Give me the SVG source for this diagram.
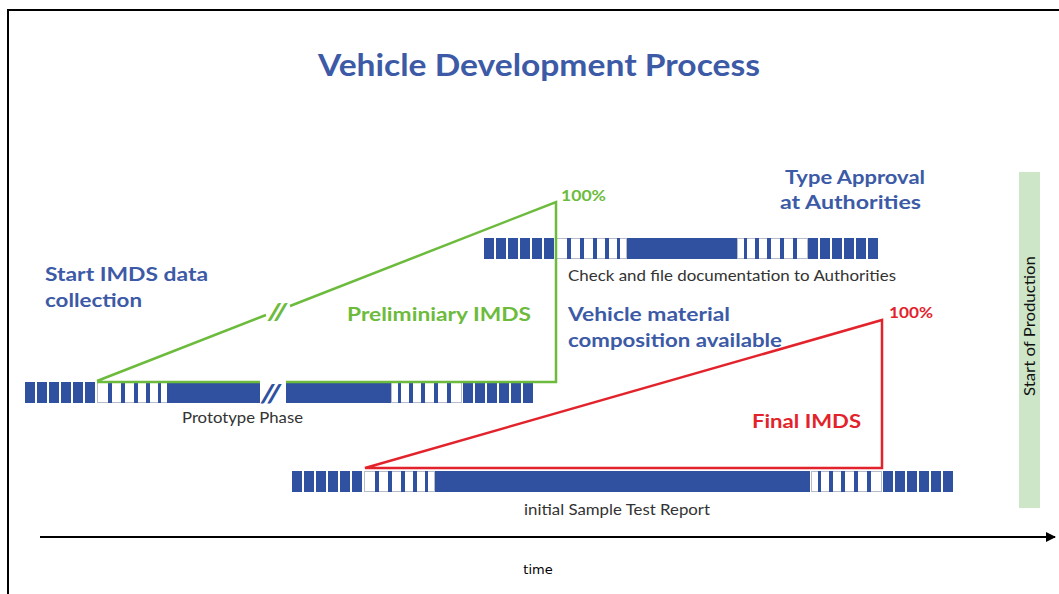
<svg xmlns="http://www.w3.org/2000/svg" xmlns:xlink="http://www.w3.org/1999/xlink" width="1059" height="594" viewBox="0 0 1059 594">
<style>
.bk{fill:#2f519f}
.sw{fill:#fff;stroke:#b8bcc8;stroke-width:1}
.st{fill:#2f519f}
.hd{font-family:Lato,"Open Sans",sans-serif;font-weight:bold;fill:#3c5aa6}
.lb{font-family:Lato,"Open Sans",sans-serif;fill:#333;font-size:16px}
.gr{stroke:#6cbb3c;stroke-width:2.5;fill:none}
.rd{stroke:#e3232c;stroke-width:2.5;fill:none}
</style>
<defs>
<g id="blk">
<rect class="bk" x="0" y="0" width="10" height="21"/>
<rect class="bk" x="12" y="0" width="10" height="21"/>
<rect class="bk" x="24" y="0" width="10" height="21"/>
<rect class="bk" x="36" y="0" width="10" height="21"/>
<rect class="bk" x="48" y="0" width="10" height="21"/>
<rect class="bk" x="60" y="0" width="10" height="21"/>
</g>
<g id="str">
<rect class="sw" x="0.5" y="0.5" width="70" height="20"/>
<rect class="st" x="11" y="0" width="4" height="21"/>
<rect class="st" x="24" y="0" width="4" height="21"/>
<rect class="st" x="37" y="0" width="4" height="21"/>
<rect class="st" x="49" y="0" width="4" height="21"/>
<rect class="st" x="61" y="0" width="3" height="21"/>
</g>
<marker id="arr" markerWidth="10" markerHeight="10" refX="9" refY="5" orient="auto" markerUnits="userSpaceOnUse">
<path d="M0,0 L10,5 L0,10 Z" fill="#000"/>
</marker>
</defs>
<rect x="0" y="0" width="1059" height="594" fill="#fff"/>
<path d="M8,594 V10 H1059" fill="none" stroke="#000" stroke-width="2"/>

<text class="hd" x="318" y="76" font-size="30" textLength="442" lengthAdjust="spacingAndGlyphs">Vehicle Development Process</text>

<g id="prototype-bar">
<use xlink:href="#blk" x="25" y="382"/>
<use xlink:href="#str" x="97" y="382"/>
<rect class="bk" x="167" y="382" width="93" height="21"/>
<text x="261" y="402" font-family="Lato,sans-serif" font-weight="900" font-style="italic" font-size="25" fill="#2f519f" textLength="20" lengthAdjust="spacingAndGlyphs">//</text>
<rect class="bk" x="286" y="382" width="106" height="21"/>
<use xlink:href="#str" transform="translate(462,382) scale(-1,1)"/>
<use xlink:href="#blk" x="463" y="382"/>
<text class="lb" x="182" y="423" textLength="121" lengthAdjust="spacingAndGlyphs">Prototype Phase</text>
</g>

<g id="authorities-bar">
<use xlink:href="#blk" x="484" y="238"/>
<use xlink:href="#str" x="556" y="238"/>
<rect class="bk" x="627" y="238" width="111" height="21"/>
<use xlink:href="#str" transform="translate(808,238) scale(-1,1)"/>
<use xlink:href="#blk" x="808" y="238"/>
<text class="lb" x="568" y="281" textLength="328" lengthAdjust="spacingAndGlyphs">Check and file documentation to Authorities</text>
</g>

<g id="sample-bar">
<use xlink:href="#blk" x="292" y="471"/>
<use xlink:href="#str" x="364" y="471"/>
<rect class="bk" x="435" y="471" width="375" height="21"/>
<use xlink:href="#str" transform="translate(882,471) scale(-1,1)"/>
<use xlink:href="#blk" x="883" y="471"/>
<text class="lb" x="524" y="515" textLength="186" lengthAdjust="spacingAndGlyphs">initial Sample Test Report</text>
</g>

<g id="connectors">
<path class="gr" d="M97,381 L266,315 M290,306 L556,202 V382 H286 M260,382 H97"/>
<text x="268" y="320" font-family="Lato,sans-serif" font-weight="900" font-style="italic" font-size="23" fill="#6cbb3c" textLength="19" lengthAdjust="spacingAndGlyphs">//</text>
<path class="rd" d="M365,468 L882,320 V468 Z"/>
<line x1="40" y1="537" x2="1055" y2="537" stroke="#000" stroke-width="2" marker-end="url(#arr)"/>
</g>

<g id="start-imds">
<text class="hd" x="45" y="281" font-size="19" textLength="163" lengthAdjust="spacingAndGlyphs">Start IMDS data</text>
<text class="hd" x="45" y="307" font-size="19" textLength="97" lengthAdjust="spacingAndGlyphs">collection</text>
</g>
<g id="preliminary">
<text class="hd" x="347" y="321" font-size="19" style="fill:#6cbb3c" textLength="184" lengthAdjust="spacingAndGlyphs">Preliminiary IMDS</text>
<text class="hd" x="561" y="201" font-size="15" style="fill:#6cbb3c" textLength="45" lengthAdjust="spacingAndGlyphs">100%</text>
</g>
<g id="type-approval">
<text class="hd" x="785" y="184" font-size="19" textLength="140" lengthAdjust="spacingAndGlyphs">Type Approval</text>
<text class="hd" x="780" y="209" font-size="19" textLength="141" lengthAdjust="spacingAndGlyphs">at Authorities</text>
</g>
<g id="vehicle-material">
<text class="hd" x="568" y="321" font-size="19" textLength="162" lengthAdjust="spacingAndGlyphs">Vehicle material</text>
<text class="hd" x="568" y="347" font-size="19" textLength="214" lengthAdjust="spacingAndGlyphs">composition available</text>
</g>
<g id="final-imds">
<text class="hd" x="889" y="318" font-size="15" style="fill:#e3232c" textLength="44" lengthAdjust="spacingAndGlyphs">100%</text>
<text class="hd" x="752" y="428" font-size="19" style="fill:#e3232c" textLength="109" lengthAdjust="spacingAndGlyphs">Final IMDS</text>
</g>
<g id="sop">
<rect x="1019" y="172" width="21" height="336" fill="#cde6c8"/>
<text class="lb" transform="translate(1035,326) rotate(-90)" text-anchor="middle" style="fill:#111" textLength="140" lengthAdjust="spacingAndGlyphs">Start of Production</text>
</g>
<text x="538" y="574" text-anchor="middle" font-family="'DejaVu Sans',sans-serif" font-size="13" fill="#000">time</text>
</svg>
